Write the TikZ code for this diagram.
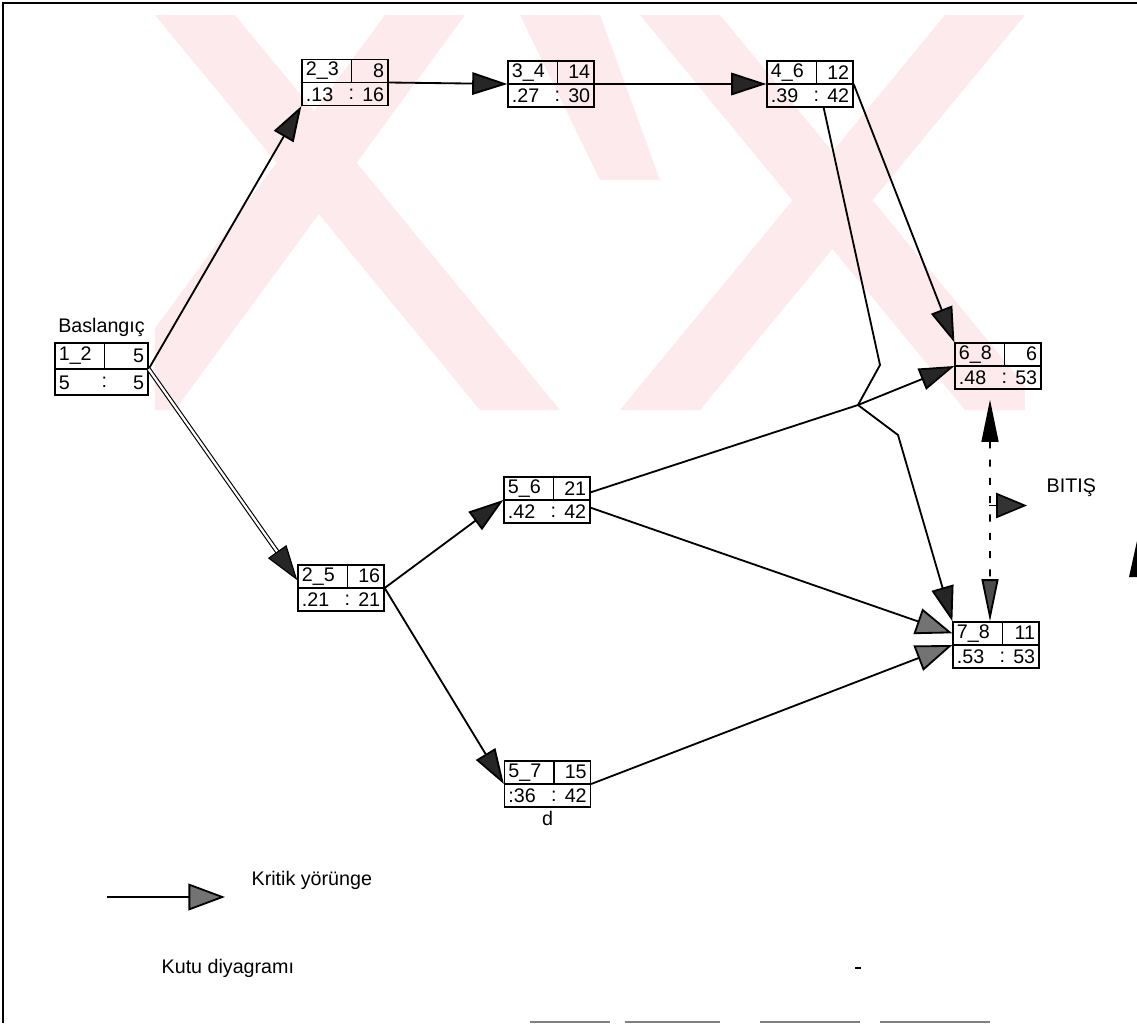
\documentclass[tikz,border=0pt]{standalone}
\usepackage{fontspec}
\setmainfont{Liberation Sans}
\usetikzlibrary{positioning, calc, arrows.meta}

\definecolor{filigran}{RGB}{252,234,237}

\tikzset{
  kutu/.style={draw, line width=0.9pt, minimum width=2.15cm, minimum height=1.15cm, inner sep=0pt},
  ince/.style={line width=0.9pt},
  yazi/.style={inner sep=3pt, font=\fontsize{14}{16}\selectfont},
  etiket/.style={inner sep=1pt, font=\fontsize{14}{16}\selectfont},
  ok/.style={line width=1.3pt, -{Triangle[length=25pt,width=16pt,fill=black!85]}},
  griok/.style={line width=1.3pt, -{Triangle[length=26pt,width=19pt,fill=black!55]}},
  kritik/.style={ok, double, double distance=1.6pt, line width=0.8pt},
  kesik/.style={line width=1.3pt, dash pattern=on 5pt off 8pt,
    {Triangle[length=30pt,width=12pt]}-{Triangle[length=30pt,width=12pt,fill=black!70]}},
}

% kutu: [stil] ad, konum, is, sure, en erken, en gec
\newcommand{\kutu}[7][]{%
  \node[kutu,#1] (#2) at (#3) {};
  \draw[ince] (#2.west) -- (#2.east);
  \draw[ince] ([xshift=1.25cm]#2.north west) -- ([xshift=1.25cm]#2.west);
  \node[yazi, anchor=west] (#2no) at ($(#2.north west)!.5!(#2.west)$) {#4};
  \node[yazi, anchor=east] (#2sure) at ($(#2.north east)!.5!(#2.east)$) {#5};
  \node[yazi, anchor=west] (#2es) at ($(#2.south west)!.5!(#2.west)$) {#6};
  \node[yazi] (#2ay) at ($(#2.south west)!.5!(#2.west)+(1.25cm,0)$) {:};
  \node[yazi, anchor=east] (#2ef) at ($(#2.south east)!.5!(#2.east)$) {#7};
}

\begin{document}
\begin{tikzpicture}[x=0.025cm, y=-0.025cm]
\useasboundingbox (0,0) rectangle (1137,1026);

% filigran
\begin{scope}
  \clip (155,15) rectangle (1025,410);
  \fill[filigran] (155,15) -- (235,15) -- (560,410) -- (480,410) -- cycle;
  \fill[filigran] (385,15) -- (465,15) -- (175,410) -- (95,410) -- cycle;
  \fill[filigran] (520,15) -- (600,15) -- (660,180) -- (600,180) -- cycle;
  \fill[filigran] (640,15) -- (720,15) -- (1045,410) -- (965,410) -- cycle;
  \fill[filigran] (945,15) -- (1025,15) -- (700,410) -- (620,410) -- cycle;
\end{scope}

\draw[line width=1.2pt] (3,1023) -- (3,3) -- (1137,3);

\kutu[minimum width=2.325cm, minimum height=1.3cm]{12}{101.5,369}{1\_2}{5}{5}{5}
\kutu{23}{345,82.5}{2\_3}{8}{.13}{16}
\kutu{34}{551,84}{3\_4}{14}{.27}{30}
\kutu{46}{810,84}{4\_6}{12}{.39}{42}
\kutu{25}{341,588}{2\_5}{16}{.21}{21}
\kutu{56}{547,500}{5\_6}{21}{.42}{42}
\kutu{57}{547.5,784}{5\_7}{15}{:36}{42}
\kutu{68}{998,366}{6\_8}{6}{.48}{53}
\kutu{78}{996,645}{7\_8}{11}{.53}{53}

\node[etiket, above=0.1cm of 12] (basla) {Baslangıç};
\node[etiket, below=0.05cm of 57] (d) {d};

\coordinate (k1) at (880,365);
\coordinate (k2) at (858,405);
\coordinate (k3) at (898,435);

\draw[ok] (12.east) -- (23.south west);
\draw[kritik] (12.east) -- (25.170);
\draw[ok] (23.east) -- (34.west);
\draw[ok] (34.east) -- (46.west);
\draw[ok] (46.east) -- (68.north west);
\draw[ok] (46.-60) -- (k1) -- (k2) -- (k3) -- (78.north west);
\draw[ok] (56.10) -- (k2) -- (68.west);
\draw[griok] (56.-10) -- (78.165);
\draw[griok] (57.east) -- (78.west);
\draw[ok] (25.east) -- (56.west);
\draw[ok] (25.east) -- (57.west);

% bitis
\draw[kesik] ([xshift=-0.2cm,yshift=-0.25cm]68.south) -- ([xshift=-0.15cm]78.north);
\coordinate (b1) at ($(68.south)!.5!(78.north)+(-0.2cm,0)$);
\coordinate[right=0.95cm of b1] (b2);
\draw[line width=1.2pt, -{Triangle[length=22pt,width=18pt,fill=black!80]}] (b1) -- (b2);
\node[etiket, right=0.45cm of b2, yshift=0.45cm] (bitis) {BITIŞ};
\fill (1129,577) -- (1137,541) -- (1137,577) -- cycle;

% lejant
\coordinate (l1) at (107,897);
\coordinate (l2) at (225,897);
\draw[griok] (l1) -- (l2);
\node[etiket, anchor=west] (lejant) at (250,880) {Kritik yörünge};
\node[etiket, anchor=west] (baslik) at (160,968) {Kutu diyagramı};
\draw[line width=1.2pt] (855,968) -- (861,968);

\draw[gray, line width=1.5pt] (530,1022) -- (610,1022) (625,1022) -- (720,1022)
  (760,1022) -- (860,1022) (880,1022) -- (990,1022);
\end{tikzpicture}
\end{document}
